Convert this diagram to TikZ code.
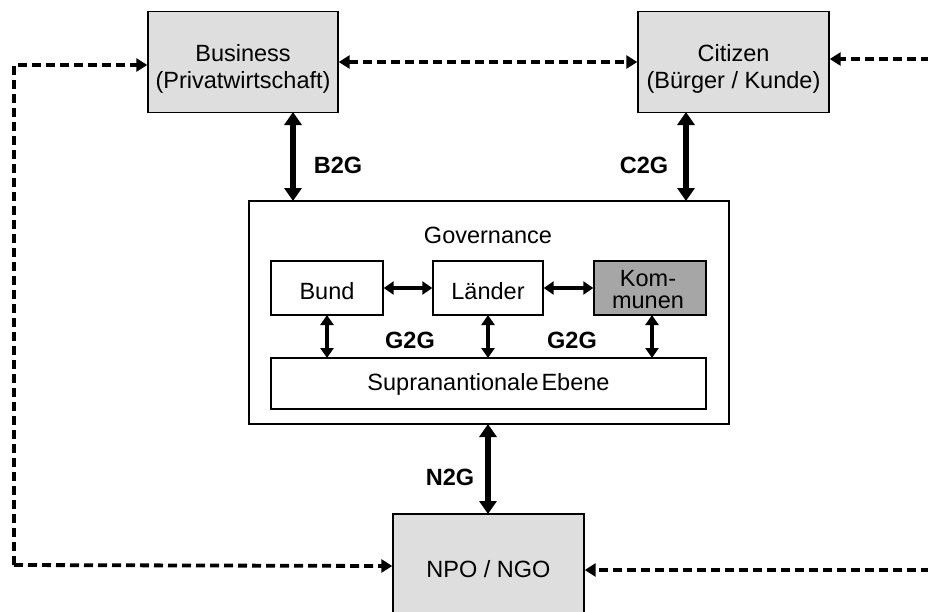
\documentclass[tikz,border=0pt]{standalone}
\usepackage{fontspec}
\setmainfont{Liberation Sans}
\usetikzlibrary{arrows.meta}
\begin{document}
\begin{tikzpicture}[x=1pt,y=-1pt,
  greybox/.style={draw=black,line width=1.4pt,fill=black!13,inner sep=0pt},
  whitebox/.style={draw=black,line width=1.4pt,fill=white,inner sep=0pt},
  lbl/.style={inner sep=0pt,align=center,font=\fontsize{23.5}{27}\selectfont},
  blbl/.style={inner sep=0pt,font=\fontsize{23.5}{27}\selectfont\bfseries},
  thick arrow/.style={line width=5.5pt,{Triangle[length=13pt,width=17pt]}-{Triangle[length=13pt,width=17pt]}},
  small arrow/.style={line width=3.5pt,{Triangle[length=10pt,width=13pt]}-{Triangle[length=10pt,width=13pt]}},
  dash arrow/.style={line width=3.8pt,dash pattern=on 9pt off 5pt,-{Triangle[length=11pt,width=13pt]}}
]
\useasboundingbox (0,0) rectangle (928,611);
% outer boxes
\node[greybox,minimum width=190pt,minimum height=101pt] (bus) at (243,62) {};
\node[lbl] (bust) at (243,69) {Business\\(Privatwirtschaft)};
\node[greybox,minimum width=191pt,minimum height=101pt] (cit) at (733.5,62) {};
\node[lbl] (citt) at (733.5,69) {Citizen\\(Bürger / Kunde)};
\node[greybox,minimum width=191pt,minimum height=110pt] (npo) at (488.5,569) {};
\node[lbl] (npot) at (488.5,569) {NPO / NGO};
% governance
\node[whitebox,minimum width=480pt,minimum height=223pt] (gov) at (489,312.5) {};
\node[lbl] (govt) at (488,235) {Governance};
\node[whitebox,minimum width=112pt,minimum height=54pt] (bund) at (327,288) {};
\node[lbl] (bundt) at (327,291) {Bund};
\node[whitebox,minimum width=110pt,minimum height=54pt] (laender) at (488,288) {};
\node[lbl] (laendert) at (488,291) {Länder};
\node[draw=black,line width=1.4pt,fill=black!35,inner sep=0pt,minimum width=112pt,minimum height=54pt] (kom) at (650,288) {};
\node[inner sep=0pt,align=center,font=\fontsize{23.5}{22}\selectfont] (komt) at (648,290) {Kom-\\munen};
\node[whitebox,minimum width=435pt,minimum height=51pt] (supra) at (488.5,383.5) {};
\node[lbl] (suprat) at (488.5,384) {Supranantionale\hspace{3pt}Ebene};
% thick arrows
\draw[thick arrow] (293,112) -- (293,201);
\draw[thick arrow] (686,112) -- (686,201);
\draw[thick arrow] (488,424) -- (488,514);
\node[blbl] (b2g) at (338,165) {B2G};
\node[blbl] (c2g) at (644,165) {C2G};
\node[blbl] (n2g) at (450,477) {N2G};
% small arrows
\draw[small arrow] (bund.east) -- (laender.west);
\draw[small arrow] (laender.east) -- (kom.west);
\draw[small arrow] (327,315) -- (327,358);
\draw[small arrow] (488,315) -- (488,358);
\draw[small arrow] (652,315) -- (652,358);
\node[blbl] (g2ga) at (410,340) {G2G};
\node[blbl] (g2gb) at (572,340) {G2G};
% dashed connectors
\coordinate (lc) at (14,65);
\coordinate (rc1) at (930,59);
\coordinate (rc2) at (930,570);
\draw[dash arrow] (14,565) -- (14,65) -- (bus.west |- 0,65);
\draw[dash arrow] (14,565) -- (npo.west |- 0,566);
\draw[dash arrow,{Triangle[length=11pt,width=13pt]}-{Triangle[length=11pt,width=13pt]}] (bus.east |- 0,62) -- (cit.west |- 0,62);
\draw[dash arrow] (rc1) -- (cit.east |- rc1);
\draw[dash arrow] (rc2) -- (npo.east |- rc2);
\end{tikzpicture}
\end{document}
